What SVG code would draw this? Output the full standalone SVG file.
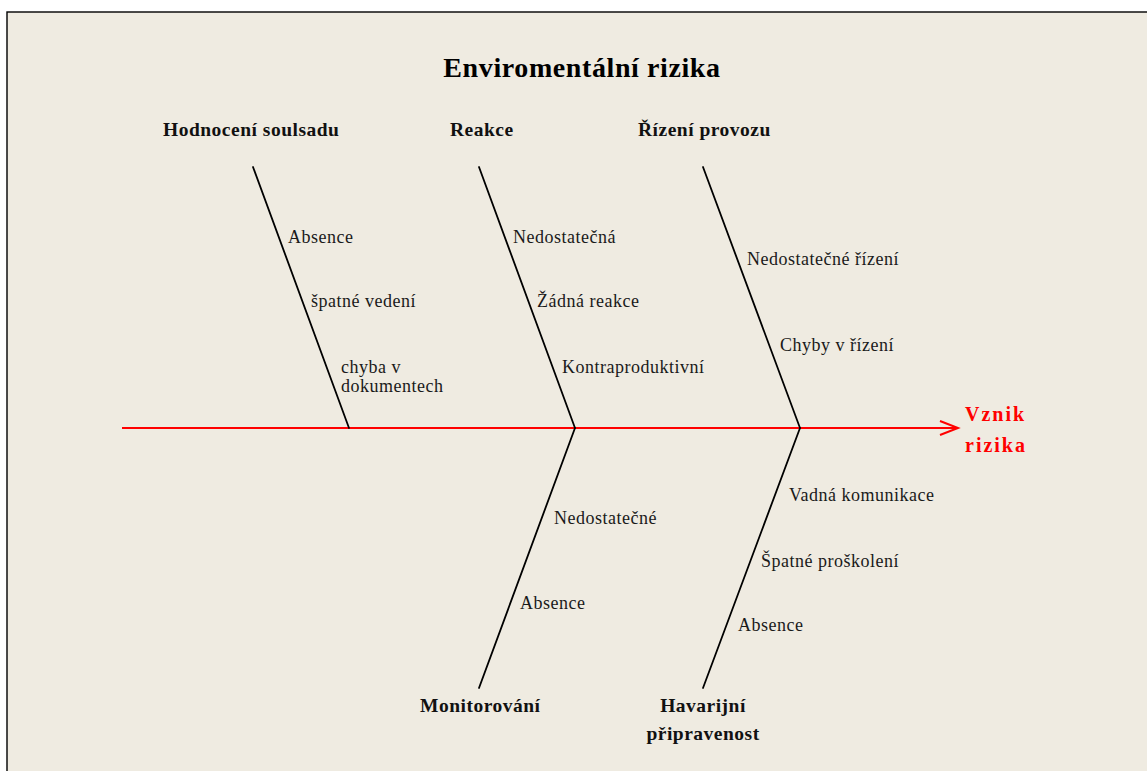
<svg xmlns="http://www.w3.org/2000/svg" width="1147" height="771" viewBox="0 0 1147 771">
  <style>
    .title { font-family: "Liberation Serif", "Times New Roman", serif; font-weight: bold; font-size: 28px; fill: #000; letter-spacing: 0.6px; }
    .head { font-family: "Liberation Serif", "Times New Roman", serif; font-weight: bold; font-size: 19.5px; fill: #111; letter-spacing: 0.5px; }
    .lbl { font-family: "Liberation Serif", "Times New Roman", serif; font-size: 18px; fill: #1a1a1a; letter-spacing: 0.5px; }
    .effect { font-family: "Liberation Serif", "Times New Roman", serif; font-weight: bold; font-size: 20px; fill: #ff0000; letter-spacing: 2px; }
    .bone { stroke: #000; stroke-width: 1.8; fill: none; stroke-linecap: round; }
    .spine { stroke: #ff0000; stroke-width: 2; fill: none; }
  </style>
  <rect x="0" y="0" width="1147" height="771" fill="#ffffff"/>
  <rect x="7" y="12" width="1150" height="770" fill="#EFEBE1" stroke="#000" stroke-width="1.4"/>

  <text class="title" x="582" y="77" text-anchor="middle">Enviromentální rizika</text>

  <g id="connectors">
    <line class="spine" x1="122" y1="428" x2="957" y2="428"/>
    <polyline class="spine" points="940,421 958,428 940,435" stroke-width="2.2"/>
    <line class="bone" x1="253" y1="167" x2="349" y2="428"/>
    <line class="bone" x1="479" y1="167" x2="575" y2="428"/>
    <line class="bone" x1="703" y1="167" x2="800" y2="428"/>
    <line class="bone" x1="575" y1="428" x2="479" y2="688"/>
    <line class="bone" x1="800" y1="428" x2="703" y2="688"/>
  </g>

  <g id="hodnoceni">
    <text class="head" x="163" y="136">Hodnocení soulsadu</text>
    <text class="lbl" x="288" y="243">Absence</text>
    <text class="lbl" x="311" y="307">špatné vedení</text>
    <text class="lbl" x="341" y="373">chyba v</text>
    <text class="lbl" x="341" y="392">dokumentech</text>
  </g>

  <g id="reakce">
    <text class="head" x="450" y="136">Reakce</text>
    <text class="lbl" x="513" y="243">Nedostatečná</text>
    <text class="lbl" x="537" y="307">Žádná reakce</text>
    <text class="lbl" x="562" y="373">Kontraproduktivní</text>
  </g>

  <g id="rizeni">
    <text class="head" x="638" y="136">Řízení provozu</text>
    <text class="lbl" x="747" y="265">Nedostatečné řízení</text>
    <text class="lbl" x="780" y="351">Chyby v řízení</text>
  </g>

  <g id="monitorovani">
    <text class="head" x="420" y="712">Monitorování</text>
    <text class="lbl" x="554" y="524">Nedostatečné</text>
    <text class="lbl" x="520" y="609">Absence</text>
  </g>

  <g id="havarijni">
    <text class="head" x="703" y="712" text-anchor="middle">Havarijní</text>
    <text class="head" x="703" y="740" text-anchor="middle">připravenost</text>
    <text class="lbl" x="789" y="501">Vadná komunikace</text>
    <text class="lbl" x="761" y="567">Špatné proškolení</text>
    <text class="lbl" x="738" y="631">Absence</text>
  </g>

  <g id="vznik">
    <text class="effect" x="965" y="421">Vznik</text>
    <text class="effect" x="965" y="452">rizika</text>
  </g>
</svg>
